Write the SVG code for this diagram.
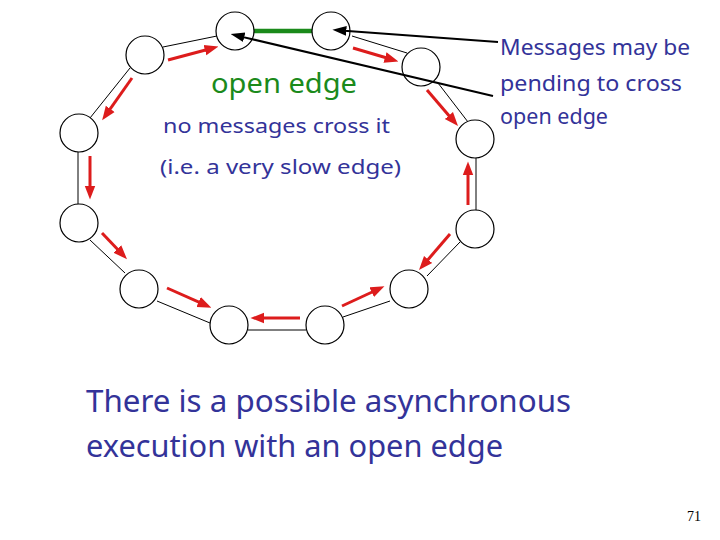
<svg xmlns="http://www.w3.org/2000/svg" width="720" height="540" viewBox="0 0 720 540">
<style>
.node{fill:#fff;stroke:#000;stroke-width:1.2}
.edge{stroke:#000;stroke-width:1;fill:none}
.msg{stroke:#dd1c1c;stroke-width:3;fill:none;marker-end:url(#ra)}
.ptr{stroke:#000;stroke-width:2;fill:none;marker-end:url(#ba)}
.t{font-family:"Noto Sans","DejaVu Sans",sans-serif;fill:#333399}
</style>
<defs>
<marker id="ra" markerUnits="userSpaceOnUse" markerWidth="14" markerHeight="12" refX="6" refY="5" orient="auto" viewBox="0 0 13 10">
<path d="M0,0 L13,5 L0,10 z" fill="#dd1c1c"/>
</marker>
<marker id="ba" markerUnits="userSpaceOnUse" markerWidth="14" markerHeight="12" refX="5" refY="4.5" orient="auto" viewBox="0 0 13 9">
<path d="M0,0 L13,4.5 L0,9 z" fill="#000"/>
</marker>
</defs>
<rect width="720" height="540" fill="#fff"/>
<g id="connectors">
<line class="edge" x1="163" y1="47" x2="217" y2="36"/>
<line x1="253" y1="31" x2="313" y2="31" stroke="#1b8a1b" stroke-width="4.5"/>
<line class="edge" x1="352" y1="36" x2="407" y2="53"/>
<line class="edge" x1="438" y1="83" x2="468" y2="122"/>
<line class="edge" x1="476" y1="158" x2="476" y2="210"/>
<line class="edge" x1="460" y1="242" x2="427" y2="276"/>
<line class="edge" x1="390" y1="301" x2="343" y2="317"/>
<line class="edge" x1="248" y1="330" x2="306" y2="330"/>
<line class="edge" x1="157" y1="301" x2="210" y2="323"/>
<line class="edge" x1="90" y1="240" x2="125" y2="273"/>
<line class="edge" x1="78" y1="152" x2="78" y2="204"/>
<line class="edge" x1="130" y1="68" x2="90" y2="118"/>
<line class="msg" x1="168" y1="60" x2="211.2" y2="48.5"/>
<line class="msg" x1="132" y1="78" x2="106.5" y2="114.1"/>
<line class="msg" x1="90" y1="156" x2="90" y2="192"/>
<line class="msg" x1="102" y1="233" x2="121.8" y2="253.7"/>
<line class="msg" x1="167" y1="288" x2="204.5" y2="304.6"/>
<line class="msg" x1="300" y1="318" x2="258" y2="318"/>
<line class="msg" x1="342" y1="306" x2="377.6" y2="289.5"/>
<line class="msg" x1="450" y1="234" x2="423.9" y2="264.4"/>
<line class="msg" x1="468" y1="205" x2="468" y2="169"/>
<line class="msg" x1="427" y1="90" x2="453.1" y2="120.4"/>
<line class="msg" x1="353" y1="48" x2="391.2" y2="59.3"/>
</g>
<g id="nA"><circle class="node" cx="235" cy="31" r="19"/></g>
<g id="nB"><circle class="node" cx="331" cy="31" r="19"/></g>
<g id="nC"><circle class="node" cx="421" cy="67" r="19"/></g>
<g id="nD"><circle class="node" cx="475" cy="139" r="19"/></g>
<g id="nE"><circle class="node" cx="475" cy="229" r="19"/></g>
<g id="nF"><circle class="node" cx="409" cy="289" r="19"/></g>
<g id="nG"><circle class="node" cx="325" cy="325" r="19"/></g>
<g id="nH"><circle class="node" cx="229" cy="325" r="19"/></g>
<g id="nI"><circle class="node" cx="139" cy="289" r="19"/></g>
<g id="nJ"><circle class="node" cx="79" cy="223" r="19"/></g>
<g id="nK"><circle class="node" cx="79" cy="133" r="19"/></g>
<g id="nL"><circle class="node" cx="145" cy="55" r="19"/></g>
<g id="pointers">
<line class="ptr" x1="498" y1="42" x2="341" y2="30.4"/>
<line class="ptr" x1="493" y1="96" x2="239" y2="36.1"/>
</g>
<g id="labels">
<text class="t" x="211" y="93" font-size="27" style="fill:#1b8a1b" textLength="146" lengthAdjust="spacingAndGlyphs">open edge</text>
<text class="t" x="163" y="133" font-size="20" textLength="227" lengthAdjust="spacingAndGlyphs">no messages cross it</text>
<text class="t" x="160" y="174" font-size="20" textLength="241" lengthAdjust="spacingAndGlyphs">(i.e. a very slow edge)</text>
<text class="t" x="500" y="55" font-size="22" textLength="190" lengthAdjust="spacingAndGlyphs">Messages may be</text>
<text class="t" x="500" y="91" font-size="22" textLength="182" lengthAdjust="spacingAndGlyphs">pending to cross</text>
<text class="t" x="500" y="124" font-size="22" textLength="108" lengthAdjust="spacingAndGlyphs">open edge</text>
<text class="t" x="86" y="412" font-size="30" textLength="485" lengthAdjust="spacingAndGlyphs">There is a possible asynchronous</text>
<text class="t" x="86" y="457" font-size="30" textLength="417" lengthAdjust="spacingAndGlyphs">execution with an open edge</text>
<text x="687" y="521" font-family="Liberation Serif, serif" font-size="14" fill="#000">71</text>
</g>
</svg>
